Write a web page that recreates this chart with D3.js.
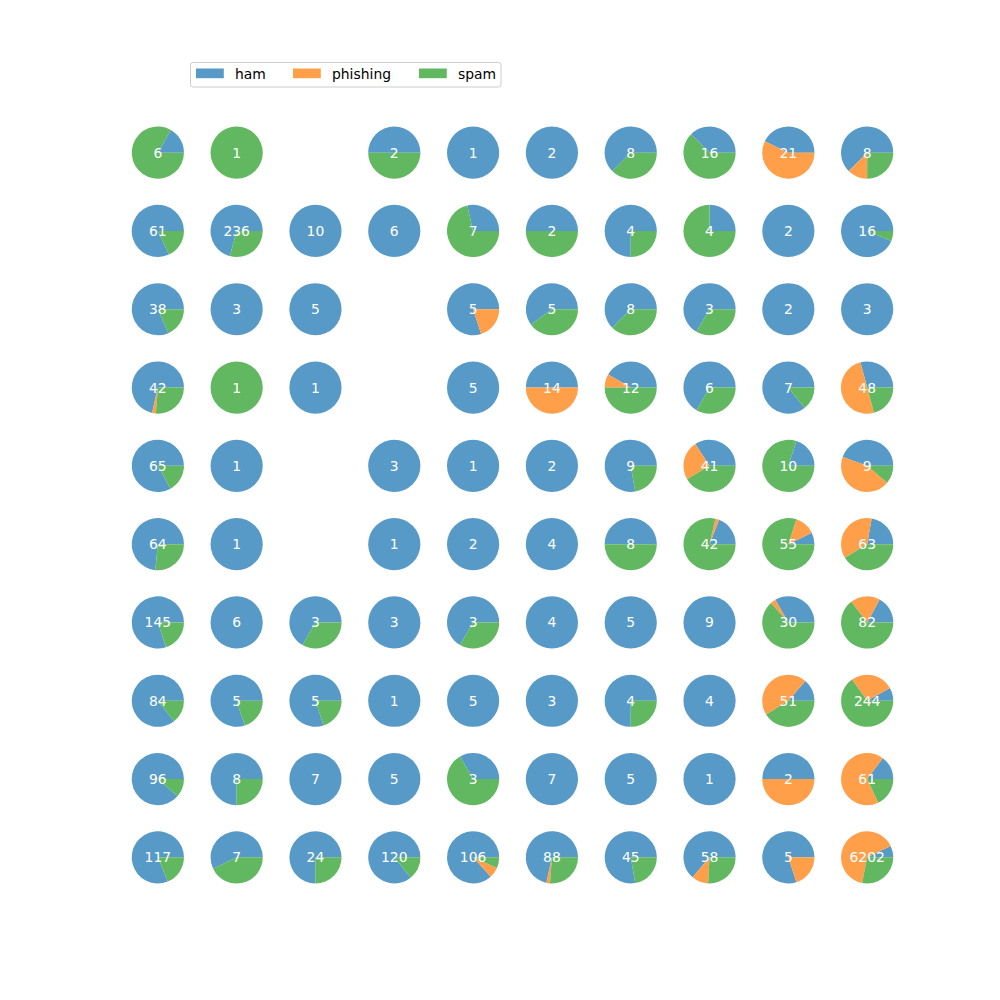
<!DOCTYPE html>
<html>
<head>
<meta charset="utf-8">
<script src="https://cdn.jsdelivr.net/npm/d3@7"></script>
<style>
  html, body { margin: 0; padding: 0; background: #fff; }
  svg { display: block; }
</style>
</head>
<body>
<svg id="chart" width="1000" height="1000"></svg>
<script>
// Categories (legend / wedge order)
const categories = ["ham", "phishing", "spam"];

// Grid of 10 x 10 pies, row-major; a cell whose counts are all 0 has no pie
const hamCounts = [
  1, 0, 0, 1, 1, 2, 5, 6, 9, 5,
  50, 167, 10, 6, 2, 1, 3, 1, 2, 15,
  31, 3, 5, 0, 4, 3, 5, 2, 2, 3,
  30, 0, 1, 0, 5, 7, 5, 4, 6, 14,
  54, 1, 0, 3, 1, 2, 7, 14, 2, 4,
  47, 1, 0, 1, 2, 4, 4, 8, 4, 14,
  116, 6, 2, 3, 2, 4, 5, 9, 10, 14,
  72, 4, 4, 1, 5, 3, 3, 4, 7, 20,
  85, 6, 7, 5, 1, 7, 5, 1, 1, 9,
  95, 4, 18, 103, 92, 63, 35, 37, 4, 450
];
const phishingCounts = [
  0, 0, 0, 0, 0, 0, 0, 0, 12, 1,
  0, 0, 0, 0, 0, 0, 0, 0, 0, 0,
  0, 0, 0, 0, 1, 0, 0, 0, 0, 0,
  1, 0, 0, 0, 0, 7, 1, 0, 0, 24,
  0, 0, 0, 0, 0, 0, 0, 10, 0, 4,
  0, 0, 0, 0, 0, 0, 0, 1, 7, 23,
  0, 0, 0, 0, 0, 0, 0, 0, 1, 15,
  0, 0, 0, 0, 0, 0, 0, 0, 23, 65,
  0, 0, 0, 0, 0, 0, 0, 0, 1, 41,
  0, 0, 0, 0, 7, 2, 0, 6, 1, 4010
];
const spamCounts = [
  5, 1, 0, 1, 0, 0, 3, 10, 0, 2,
  11, 69, 0, 0, 5, 1, 1, 3, 0, 1,
  7, 0, 0, 0, 0, 2, 3, 1, 0, 0,
  11, 1, 0, 0, 0, 0, 6, 2, 1, 10,
  11, 0, 0, 0, 0, 0, 2, 17, 8, 1,
  17, 0, 0, 0, 0, 0, 4, 33, 44, 26,
  29, 0, 1, 0, 1, 0, 0, 0, 19, 53,
  12, 1, 1, 0, 0, 0, 1, 0, 21, 159,
  11, 2, 0, 0, 2, 0, 0, 0, 0, 11,
  22, 3, 6, 17, 7, 23, 10, 15, 0, 1742
];

const nCols = 10, nRows = 10;
const W = 1000, H = 1000;

// matplotlib-like subplot grid geometry
const gridLeft = 0.125 * W, gridRight = 0.9 * W;
const gridTop = (1 - 0.88) * H, gridBottom = (1 - 0.11) * H;
const cellW = (gridRight - gridLeft) / (nCols + (nCols - 1) * 0.2);
const cellH = (gridBottom - gridTop) / (nRows + (nRows - 1) * 0.2);
const x = d3.scaleLinear().domain([0, nCols - 1])
  .range([gridLeft + cellW / 2, gridRight - cellW / 2]);
const y = d3.scaleLinear().domain([0, nRows - 1])
  .range([gridTop + cellH / 2, gridBottom - cellH / 2]);
const radius = Math.min(cellW, cellH) / 2.5;

const color = d3.scaleOrdinal().domain(categories)
  .range(["#5799c7", "#ff9f4a", "#61b861"]);

const svg = d3.select("#chart");

// counter-clockwise from 3 o'clock, like matplotlib
const pie = d3.pie().sort(null).value(d => d.value)
  .startAngle(Math.PI / 2).endAngle(Math.PI / 2 - 2 * Math.PI);
const arc = d3.arc().innerRadius(0).outerRadius(radius);

const cells = d3.range(nRows * nCols).map(i => {
  const vals = [hamCounts[i], phishingCounts[i], spamCounts[i]];
  return {
    row: Math.floor(i / nCols), col: i % nCols,
    data: categories.map((c, k) => ({ cat: c, value: vals[k] })),
    total: d3.sum(vals)
  };
}).filter(d => d.total > 0);

const g = svg.append("g").selectAll("g.pie").data(cells).join("g")
  .attr("class", "pie")
  .attr("transform", d => `translate(${x(d.col)},${y(d.row)})`);

g.selectAll("path").data(d => pie(d.data).filter(p => p.data.value > 0)).join("path")
  .attr("d", arc)
  .attr("fill", p => color(p.data.cat));

g.append("text")
  .attr("text-anchor", "middle")
  .attr("y", 5)
  .attr("fill", "#ffffff")
  .style("font-family", "DejaVu Sans, sans-serif")
  .style("font-size", "13.9px")
  .text(d => d.total);

// Legend
const legend = svg.append("g");
legend.append("rect")
  .attr("x", 190.5).attr("y", 62.5).attr("width", 310.5).attr("height", 24.5)
  .attr("rx", 2.5).attr("fill", "#ffffff").attr("fill-opacity", 0.8)
  .attr("stroke", "#cccccc").attr("stroke-width", 1);
const legendX = d3.scaleOrdinal().domain(categories).range([196, 293, 419]);
const items = legend.selectAll("g.item").data(categories).join("g")
  .attr("class", "item")
  .attr("transform", c => `translate(${legendX(c)},0)`);
items.append("rect")
  .attr("x", 0).attr("y", 68.5).attr("width", 27.8).attr("height", 9.7)
  .attr("fill", c => color(c));
items.append("text")
  .attr("x", 39).attr("y", 78.5)
  .attr("fill", "#000000")
  .style("font-family", "DejaVu Sans, sans-serif")
  .style("font-size", "13.9px")
  .text(c => c);
</script>
</body>
</html>
